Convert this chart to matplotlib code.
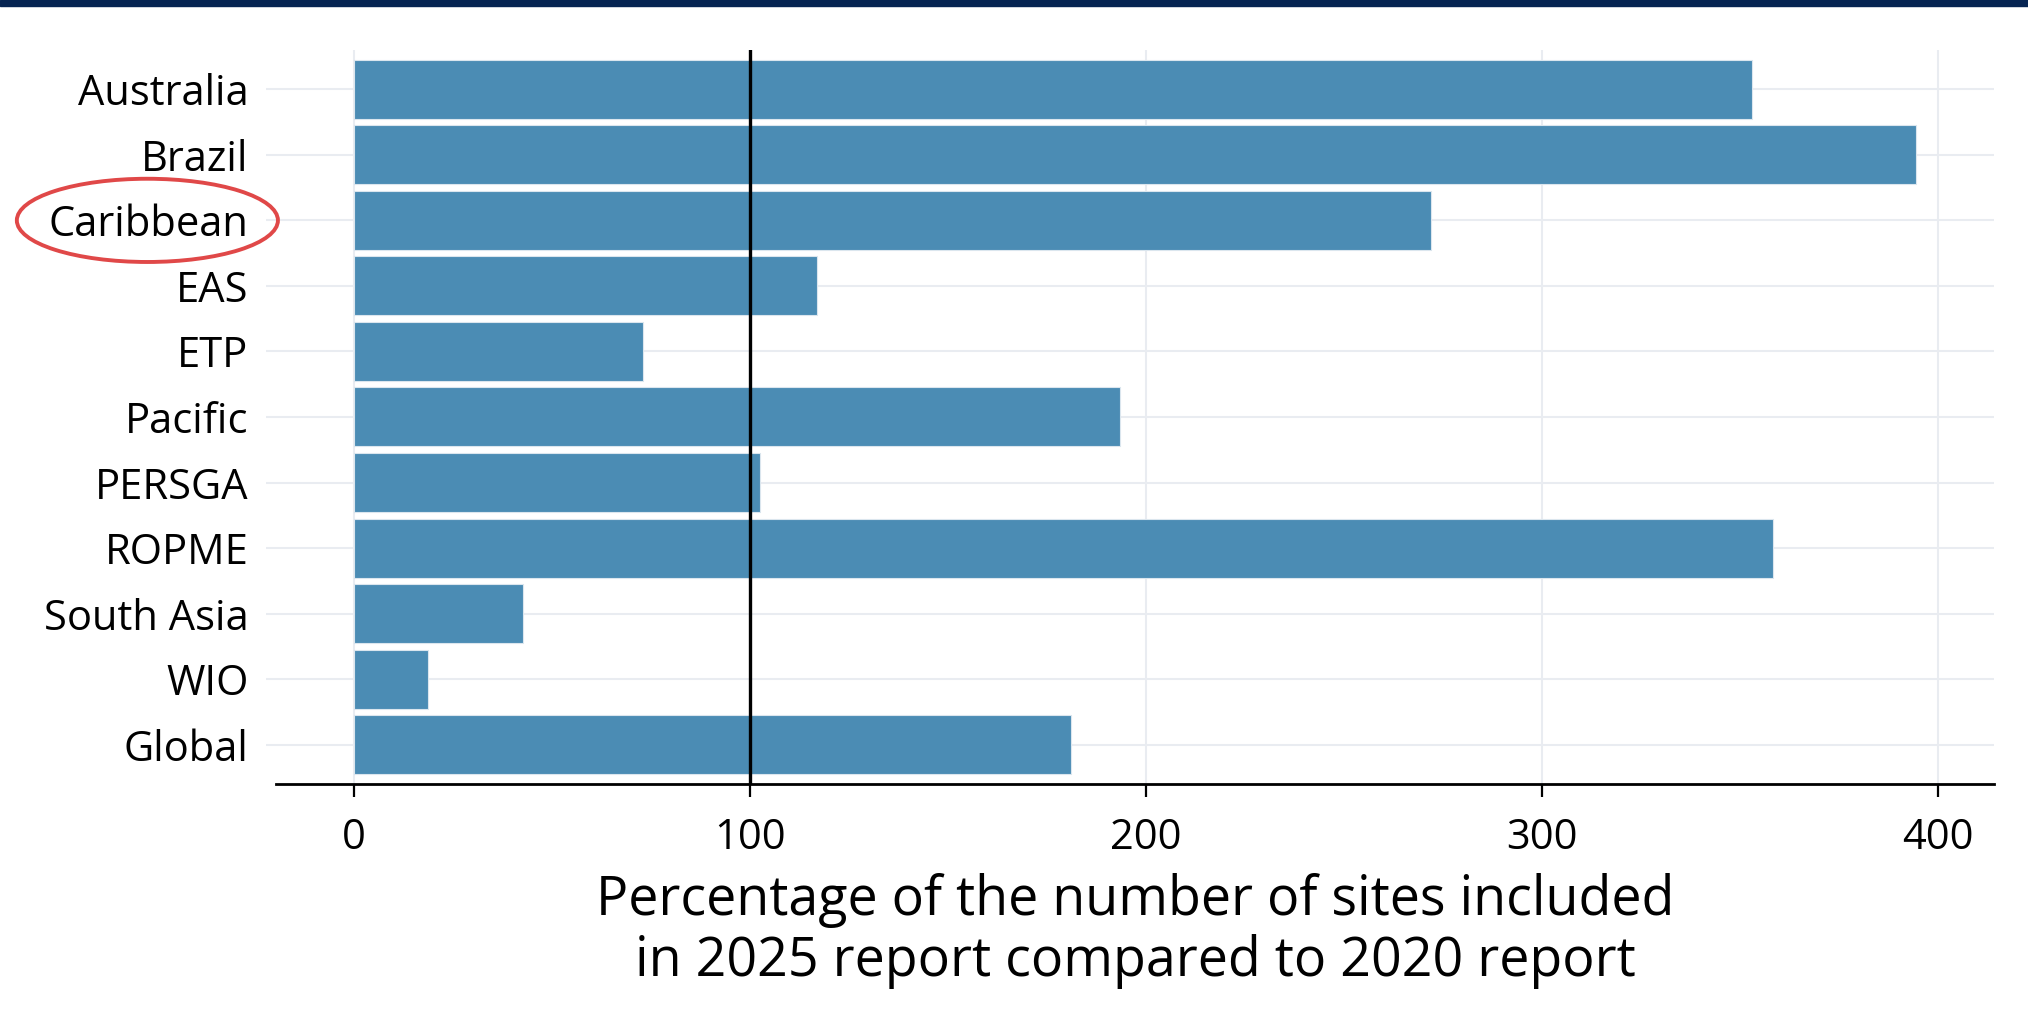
import matplotlib
matplotlib.use("Agg")
import matplotlib.pyplot as plt
from matplotlib.patches import Ellipse, Rectangle
from matplotlib.transforms import blended_transform_factory

# --- data ---
regions = ["Australia", "Brazil", "Caribbean", "EAS", "ETP", "Pacific",
           "PERSGA", "ROPME", "South Asia", "WIO", "Global"]
pct_sites = [353, 394.5, 272, 117, 73, 193.5, 102.5, 358.5, 42.5, 18.5, 181]
xticks = [0, 100, 200, 300, 400]
ref_line = 100
highlight = "Caribbean"

BAR = "#4b8cb4"
GRID = "#e9ecf1"

plt.rcParams["font.family"] = ["Open Sans", "DejaVu Sans"]

fig = plt.figure(figsize=(20.28, 10.22), dpi=100)
ax = fig.add_axes([0.1362, 0.2329, 0.8470, 0.7182])

ypos = list(range(len(regions)))
ax.barh(ypos, pct_sites, height=0.9, color=BAR, edgecolor="#dbe6ee",
        linewidth=0.8, zorder=2)
ax.axvline(ref_line, color="black", lw=2.4, zorder=3)

top = max(pct_sites)
ax.set_xlim(-0.05 * top, 1.05 * top)
ax.set_ylim(len(regions) - 0.4, -0.6)

ax.set_yticks(ypos)
ax.set_yticklabels(regions)
ax.set_xticks(xticks)

ax.grid(True, color=GRID, lw=1.5, zorder=0)
ax.set_axisbelow(True)
for s in ["top", "right", "left"]:
    ax.spines[s].set_visible(False)
ax.spines["bottom"].set_linewidth(2)
ax.spines["bottom"].set_color("black")

ax.tick_params(axis="y", length=7, width=1.5, color=GRID, pad=13,
               labelsize=30)
ax.tick_params(axis="x", length=9, width=1.6, color="black", pad=15,
               labelsize=30)

ax.set_xlabel("Percentage of the number of sites included\n"
              "in 2025 report compared to 2020 report",
              fontsize=38.7, labelpad=10, linespacing=1.15)

# red ellipse around the highlighted label
trans = blended_transform_factory(ax.transAxes, ax.transData)
ax.add_patch(Ellipse((-0.075, regions.index(highlight)), 0.152, 1.27,
                     transform=trans, fill=False, edgecolor="#e04848",
                     lw=2.8, clip_on=False, zorder=5))

# navy band along the top edge
fig.patches.append(Rectangle((0, 0.994), 1, 0.006, transform=fig.transFigure,
                             color="#062452", zorder=10))

fig.savefig("out.png", dpi=100)
